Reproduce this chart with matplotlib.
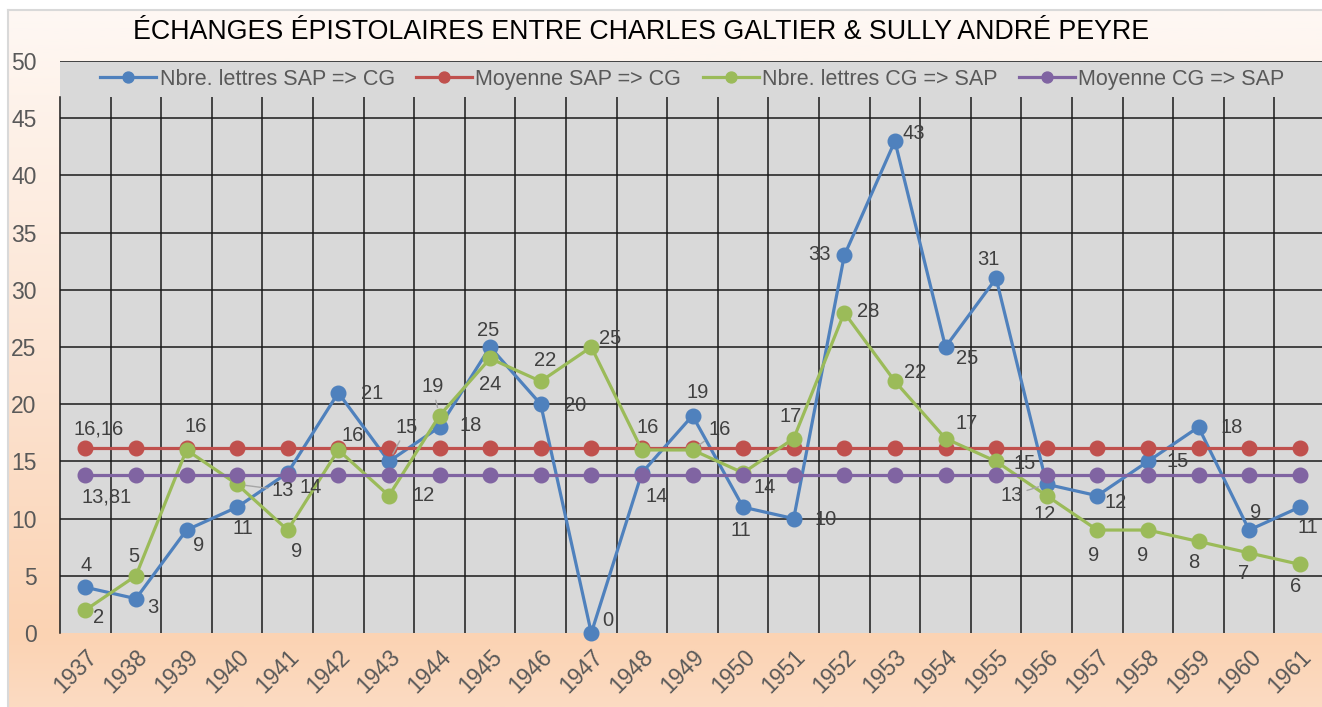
import numpy as np
import matplotlib
matplotlib.use("Agg")
import matplotlib.pyplot as plt
from matplotlib.colors import LinearSegmentedColormap

# ---- data ----
years = [str(y) for y in range(1937, 1962)]
sap_cg = [4, 3, 9, 11, 14, 21, 15, 18, 25, 20, 0, 14, 19, 11, 10, 33, 43, 25, 31, 13, 12, 15, 18, 9, 11]
cg_sap = [2, 5, 16, 13, 9, 16, 12, 19, 24, 22, 25, 16, 16, 14, 17, 28, 22, 17, 15, 12, 9, 9, 8, 7, 6]
mean_sap_cg = 16.16
mean_cg_sap = 13.81
series_names = ["Nbre. lettres SAP => CG", "Moyenne SAP => CG",
                "Nbre. lettres CG => SAP", "Moyenne CG => SAP"]
title = "ÉCHANGES ÉPISTOLAIRES ENTRE CHARLES GALTIER & SULLY ANDRÉ PEYRE"

# label offsets (pixels) -- styling only
blue_off = [(1, 22), (17, -9), (12, -15), (6, -21), (23, -15), (34, -1), (18, 34), (31, 2),
            (-2, 16), (34, -1), (17, 13), (15, -24), (5, 23), (-2, -23), (32, -1), (-25, 1),
            (19, 8), (22, -12), (-8, 19), (-35, -11), (18, -7), (30, 0), (33, 0), (7, 18), (8, -20)]
green_off = [(13, -7), (-2, 19), (9, 23), (46, -6), (9, -21), (14, 14), (35, 0), (-7, 29),
             (0, -26), (4, 21), (19, 9), (6, 22), (27, 20), (22, -15), (-3, 22), (24, 1),
             (20, 9), (21, 15), (29, -2), (-2, -19), (-4, -25), (-5, -25), (-5, -21), (-6, -21), (-4, -22)]
blue_leader = {6, 19}
green_leader = {3, 7, 12}

W, H = 1322, 707
fig = plt.figure(figsize=(W / 100, H / 100), dpi=100)
fig.patch.set_facecolor("white")
plt.rcParams["font.family"] = ["Liberation Sans", "DejaVu Sans"]

# background gradient
bg = fig.add_axes([8 / W, 0, 1 - 8 / W, (H - 10) / H])
cmap = LinearSegmentedColormap.from_list(
    "bgc", [(0, "#FEF8F4"), (0.12, "#FEF3EB"), (0.55, "#FCE2CF"), (0.9, "#FBD3B3"), (1.0, "#FCDBC2")])
grad = np.linspace(0, 1, 256).reshape(-1, 1)
bg.imshow(grad, aspect="auto", cmap=cmap, extent=[0, 1, 0, 1], origin="upper")
bg.set_xlim(0, 1); bg.set_ylim(0, 1)
bg.set_xticks([]); bg.set_yticks([])
for s in bg.spines.values():
    s.set_color("#D9D9D9"); s.set_linewidth(1.5)
bg.spines["right"].set_visible(False)
bg.spines["bottom"].set_visible(False)

ax = fig.add_axes([60 / W, (H - 633) / H, 1265 / W, (633 - 61) / H])
ax.set_facecolor("#D9D9D9")
x = np.arange(len(years))
ax.set_xlim(-0.5, len(years) - 0.5)
ax.set_ylim(0, 50)

# grid
for yv in range(5, 51, 5):
    ax.axhline(yv, color="#1A1A1A", lw=1.1, zorder=1)
ax.vlines(x[:-1] + 0.5, 0, 46.85, color="#1A1A1A", lw=1.1, zorder=1)
for s in ["top", "right", "bottom"]:
    ax.spines[s].set_visible(False)
ax.spines["left"].set_color("#1A1A1A")
ax.spines["left"].set_linewidth(1.1)
ax.spines["left"].set_bounds(0, 46.85)

cols = ["#4F81BD", "#C0504D", "#9BBB59", "#8064A2"]
vals = [sap_cg, [mean_sap_cg] * len(years), cg_sap, [mean_cg_sap] * len(years)]
lines = []
for i, (v, c) in enumerate(zip(vals, cols)):
    ln, = ax.plot(x, v, color=c, lw=2.3, marker="o", markersize=10.5, zorder=3 + i,
                  label=series_names[i], clip_on=False)
    lines.append(ln)

lab_kw = dict(textcoords="offset pixels", ha="center", va="center",
              fontsize=14.5, color="#404040", zorder=10)
for i in range(len(years)):
    ap = dict(arrowstyle="-", color="#A6A6A6", lw=1, shrinkA=1, shrinkB=6) if i in blue_leader else None
    ax.annotate(str(sap_cg[i]), (x[i], sap_cg[i]), xytext=blue_off[i], arrowprops=ap, **lab_kw)
    ap = dict(arrowstyle="-", color="#A6A6A6", lw=1, shrinkA=1, shrinkB=6) if i in green_leader else None
    ax.annotate(str(cg_sap[i]), (x[i], cg_sap[i]), xytext=green_off[i], arrowprops=ap, **lab_kw)
ax.annotate(f"{mean_sap_cg:.2f}".replace(".", ","), (x[0], mean_sap_cg), xytext=(13, 19), **lab_kw)
ax.annotate(f"{mean_cg_sap:.2f}".replace(".", ","), (x[0], mean_cg_sap), xytext=(21, -22), **lab_kw)

# ticks
ax.set_yticks(range(0, 51, 5))
ax.tick_params(axis="y", length=0, pad=17, labelsize=16.5, labelcolor="#595959")
ax.set_xticks(x)
ax.set_xticklabels(years, rotation=45, ha="right", va="top", rotation_mode="anchor")
ax.tick_params(axis="x", length=0, pad=9, labelsize=16.5, labelcolor="#595959")

leg = ax.legend(handles=lines, loc="center", bbox_to_anchor=(0.5, 0.968), ncol=4,
                frameon=False, fontsize=15.5, handlelength=2.6, columnspacing=1.0,
                handletextpad=0.15, labelcolor="#595959", markerscale=0.75)

fig.text(641 / W, 1 - 32 / H, title, ha="center", va="center", fontsize=19.3, color="black")

fig.savefig("out.png", dpi=100, facecolor="white")
